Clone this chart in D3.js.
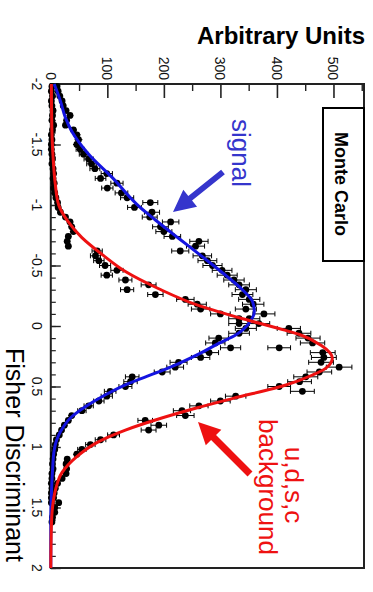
<!DOCTYPE html>
<html>
<head>
<meta charset="utf-8">
<script src="https://cdnjs.cloudflare.com/ajax/libs/d3/7.8.5/d3.min.js"></script>
<style>
  body { margin: 0; background: #fff; }
  svg { display: block; font-family: "Liberation Sans", Arial, sans-serif; }
</style>
</head>
<body>
<svg></svg>
<script>
// Fisher discriminant bin centres (100 bins of 0.04 from -2 to 2)
let binCenters = [
  -1.98, -1.94, -1.90, -1.86, -1.82, -1.78, -1.74, -1.70, -1.66, -1.62,
  -1.58, -1.54, -1.50, -1.46, -1.42, -1.38, -1.34, -1.30, -1.26, -1.22,
  -1.18, -1.14, -1.10, -1.06, -1.02, -0.98, -0.94, -0.90, -0.86, -0.82,
  -0.78, -0.74, -0.70, -0.66, -0.62, -0.58, -0.54, -0.50, -0.46, -0.42,
  -0.38, -0.34, -0.30, -0.26, -0.22, -0.18, -0.14, -0.10, -0.06, -0.02,
   0.02,  0.06,  0.10,  0.14,  0.18,  0.22,  0.26,  0.30,  0.34,  0.38,
   0.42,  0.46,  0.50,  0.54,  0.58,  0.62,  0.66,  0.70,  0.74,  0.78,
   0.82,  0.86,  0.90,  0.94,  0.98,  1.02,  1.06,  1.10,  1.14,  1.18,
   1.22,  1.26,  1.30,  1.34,  1.38,  1.42,  1.46,  1.50,  1.54,  1.58,
   1.62,  1.66,  1.70,  1.74,  1.78,  1.82,  1.86,  1.90,  1.94,  1.98
];

// Monte Carlo counts, signal sample
let signalCounts = [
   11,  13,  16,  20,  22,  27,  34,  28,  26,  40,
   46,  49,  46,  52,  58,  67,  72,  78,  99,  88,
  117, 100, 125, 135, 176, 148, 179, 175, 212, 194,
  200, 215, 262, 256, 229, 268, 277, 286, 303, 312,
  324, 333, 345, 339, 351, 358, 345, 377, 351, 333,
  345, 333, 297, 291, 318, 280, 265, 226, 220, 197,
  144, 141, 132, 105,  99,  85,  67,  55,  37,  31,
   24,  19,  15,  10,   8,   7,   5,   4,   3,   4,
    2,   2,   1,   2,   1,   1,   1,   0,   0,   0,
    0,   0,   0,   0,   0,   0,   0,   0,   0,   0
];

// Monte Carlo counts, u,d,s,c background sample
let backgroundCounts = [
    2,   1,   3,   1,   2,   4,   3,   2,   5,   3,
    1,   2,   1,   1,   2,   3,   2,   4,   5,   4,
    6,   5,   7,   9,  12,  13,  17,  26,  34,  37,
   40,  31,  29,  31,  82,  79,  85,  96, 117,  99,
  132, 173, 135, 185, 238, 259, 265, 300, 333, 368,
  421, 439, 455, 463, 404, 481, 483, 478, 510, 475,
  451, 440, 404, 445, 327, 300, 262, 232, 238, 167,
  191, 173, 111,  88,  70,  55,  46,  29,  27,  28,
   27,  20,  12,   8,   6,   5,  14,   7,   7,   3,
    2,   0,   0,   0,   0,   0,   0,   0,   0,   0
];

// Fit curves: [fisher, units]
let signalFit = [
  [-2, 6], [-1.86, 17], [-1.72, 26], [-1.61, 37], [-1.42, 67], [-1.23, 108],
  [-0.98, 158], [-0.876, 185], [-0.725, 226], [-0.573, 268], [-0.42, 309],
  [-0.30, 339], [-0.20, 357], [-0.12, 360], [-0.02, 350], [0.03, 340],
  [0.074, 327], [0.143, 297], [0.226, 264], [0.31, 226], [0.39, 185],
  [0.474, 138], [0.57, 96], [0.667, 61], [0.75, 37], [0.874, 17],
  [1.025, 6], [1.2, 3], [1.4, 1], [1.6, 0], [2, 0]
];

let backgroundFit = [
  [-2, 1], [-1.6, 2], [-1.4, 4], [-1.17, 8], [-1.0, 14], [-0.86, 31],
  [-0.73, 55], [-0.59, 91], [-0.45, 132], [-0.31, 190], [-0.17, 261],
  [-0.07, 332], [0.03, 410], [0.07, 440], [0.16, 478], [0.267, 498],
  [0.35, 486], [0.405, 463], [0.488, 416], [0.6, 321], [0.68, 256],
  [0.777, 185], [0.86, 132], [0.97, 79], [1.025, 61], [1.08, 46],
  [1.21, 20], [1.36, 8], [1.5, 3], [1.66, 1], [2, 0]
];

// Tick labels
let unitTicks = [0, 100, 200, 300, 400, 500];
let unitMinor = [50, 150, 250, 350, 450, 550];
let fisherTicks = [-2, -1.5, -1, -0.5, 0, 0.5, 1, 1.5, 2];
let fisherMinor = d3.range(-20, 21).map(d => d / 10);

let width = 373,
    height = 592;

let blue = "#1414e0",
    red = "#ee1111",
    arrowBlue = "#3535cc";

let svg = d3.select("svg")
    .attr("width", width)
    .attr("height", height);

// The plot is shown turned a quarter clockwise:
// units run left to right, the discriminant runs top to bottom
let x = d3.scaleLinear().domain([0, 554]).range([50.8, 364]);
let y = d3.scaleLinear().domain([-2, 2]).range([84, 568]);

// Frame
svg.append("rect")
    .attr("x", x(0)).attr("y", y(-2))
    .attr("width", x(554) - x(0)).attr("height", y(2) - y(-2))
    .style("fill", "none")
    .style("stroke", "#222")
    .style("stroke-width", 2);

// Units axis along the top, ticks pointing into the frame
svg.append("g")
    .attr("transform", `translate(0,${y(-2)})`)
    .call(d3.axisBottom(x).tickValues(unitTicks).tickSize(14).tickSizeOuter(0).tickFormat(""))
    .call(g => g.select(".domain").remove())
    .call(g => g.selectAll("line").style("stroke", "#222").style("stroke-width", 1.6));

svg.append("g")
    .attr("transform", `translate(0,${y(-2)})`)
    .call(d3.axisBottom(x).tickValues(unitMinor).tickSize(7).tickSizeOuter(0).tickFormat(""))
    .call(g => g.select(".domain").remove())
    .call(g => g.selectAll("line").style("stroke", "#222").style("stroke-width", 1.4));

svg.append("g").selectAll("text")
    .data(unitTicks)
    .enter().append("text")
    .attr("transform", d => `translate(${x(d) - 5},80) rotate(90)`)
    .attr("text-anchor", "end")
    .style("font-size", "14px")
    .style("fill", "#111")
    .text(d => d);

// Discriminant axis along the left, ticks pointing into the frame
svg.append("g")
    .attr("transform", `translate(${x(0)},0)`)
    .call(d3.axisRight(y).tickValues(fisherTicks).tickSize(10).tickSizeOuter(0).tickFormat(""))
    .call(g => g.select(".domain").remove())
    .call(g => g.selectAll("line").style("stroke", "#222").style("stroke-width", 1.4));

svg.append("g")
    .attr("transform", `translate(${x(0)},0)`)
    .call(d3.axisRight(y).tickValues(fisherMinor).tickSize(5).tickSizeOuter(0).tickFormat(""))
    .call(g => g.select(".domain").remove())
    .call(g => g.selectAll("line").style("stroke", "#222").style("stroke-width", 1.2));

svg.append("g").selectAll("text")
    .data(fisherTicks)
    .enter().append("text")
    .attr("transform", d => `translate(32,${y(d)}) rotate(90)`)
    .attr("text-anchor", "middle")
    .style("font-size", "14px")
    .style("fill", "#111")
    .text(d => d);

// Axis titles
svg.append("text")
    .attr("x", 365)
    .attr("y", 44)
    .attr("text-anchor", "end")
    .style("font-size", "24px")
    .style("font-weight", "bold")
    .style("fill", "#000")
    .text("Arbitrary Units");

svg.append("text")
    .attr("transform", "translate(6,455) rotate(90)")
    .attr("text-anchor", "middle")
    .style("font-size", "25px")
    .style("fill", "#000")
    .text("Fisher Discriminant");

// Data points with Poisson error bars
function drawPoints(counts) {
    let pts = binCenters.map((f, i) => ({f: f, v: counts[i]}))
        .filter(d => d.v > 0);

    let g = svg.append("g");

    g.selectAll("line.bar")
        .data(pts)
        .enter().append("line")
        .attr("x1", d => x(d.v - Math.sqrt(d.v)))
        .attr("x2", d => x(d.v + Math.sqrt(d.v)))
        .attr("y1", d => y(d.f))
        .attr("y2", d => y(d.f))
        .style("stroke", "#000")
        .style("stroke-width", 1);

    // caps on both ends
    [-1, 1].forEach(s => {
        g.selectAll(null)
            .data(pts.filter(d => Math.sqrt(d.v) * 0.565 > 4))
            .enter().append("line")
            .attr("x1", d => x(d.v + s * Math.sqrt(d.v)))
            .attr("x2", d => x(d.v + s * Math.sqrt(d.v)))
            .attr("y1", d => y(d.f) - 2.5)
            .attr("y2", d => y(d.f) + 2.5)
            .style("stroke", "#000")
            .style("stroke-width", 1);
    });

    g.selectAll("circle")
        .data(pts)
        .enter().append("circle")
        .attr("cx", d => x(d.v))
        .attr("cy", d => y(d.f))
        .attr("r", 3.4)
        .style("fill", "#000");
}

drawPoints(signalCounts);
drawPoints(backgroundCounts);

// Fit curves
let fitLine = d3.line()
    .x(d => x(d[1]))
    .y(d => y(d[0]))
    .curve(d3.curveMonotoneY);

svg.append("path")
    .datum(signalFit)
    .attr("d", fitLine)
    .style("fill", "none")
    .style("stroke", blue)
    .style("stroke-width", 3);

svg.append("path")
    .datum(backgroundFit)
    .attr("d", fitLine)
    .style("fill", "none")
    .style("stroke", red)
    .style("stroke-width", 3);

// Monte Carlo label box
svg.append("rect")
    .attr("x", 323).attr("y", 108)
    .attr("width", 41).attr("height", 153)
    .style("fill", "#fff")
    .style("stroke", "#000")
    .style("stroke-width", 2);

svg.append("text")
    .attr("transform", "translate(335,184) rotate(90)")
    .attr("text-anchor", "middle")
    .style("font-size", "18px")
    .style("font-weight", "bold")
    .text("Monte Carlo");

// Arrows
function arrow(from, to, color, shaft, headLen, headHalf) {
    let dx = to[0] - from[0], dy = to[1] - from[1];
    let len = Math.sqrt(dx * dx + dy * dy);
    let ux = dx / len, uy = dy / len;
    let nx = -uy, ny = ux;
    let bx = to[0] - ux * headLen, by = to[1] - uy * headLen;
    let w = shaft / 2;
    let pts = [
        [from[0] + nx * w, from[1] + ny * w],
        [bx + nx * w, by + ny * w],
        [bx + nx * headHalf, by + ny * headHalf],
        to,
        [bx - nx * headHalf, by - ny * headHalf],
        [bx - nx * w, by - ny * w],
        [from[0] - nx * w, from[1] - ny * w]
    ];
    svg.append("polygon")
        .attr("points", pts.map(p => p.join(",")).join(" "))
        .style("fill", color);
}

arrow([223, 172], [173, 212], arrowBlue, 6, 22, 11);
arrow([250, 474], [198, 422], red, 7, 22, 11);

// Labels
svg.append("text")
    .attr("transform", "translate(232,153) rotate(90)")
    .attr("text-anchor", "middle")
    .style("font-size", "26px")
    .style("fill", arrowBlue)
    .text("signal");

svg.append("text")
    .attr("transform", "translate(285,485) rotate(90)")
    .attr("text-anchor", "middle")
    .style("font-size", "26px")
    .style("fill", red)
    .text("u,d,s,c");

svg.append("text")
    .attr("transform", "translate(259,487) rotate(90)")
    .attr("text-anchor", "middle")
    .style("font-size", "26px")
    .style("fill", red)
    .text("background");
</script>
</body>
</html>
